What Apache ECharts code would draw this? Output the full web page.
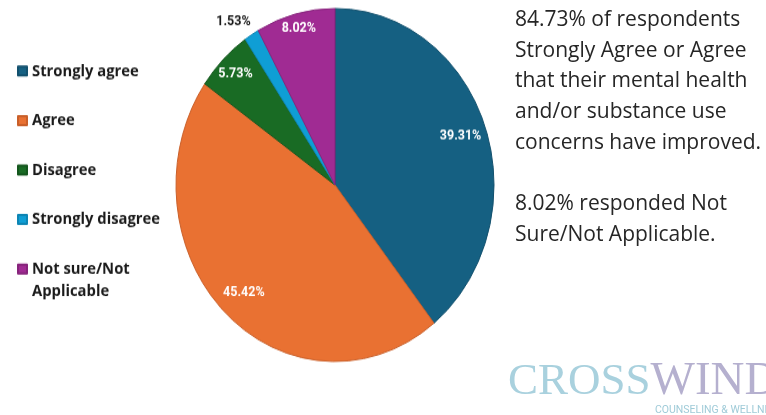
<!DOCTYPE html>
<html>
<head>
<meta charset="utf-8">
<script src="https://cdn.jsdelivr.net/npm/echarts@6/dist/echarts.min.js"></script>
<style>
  html, body { margin: 0; padding: 0; background: #ffffff; }
  #wrap { position: relative; width: 766px; height: 415px; overflow: hidden; }
  #main, #pie { position: absolute; left: 0; top: 0; width: 766px; height: 415px; }
  /* the pie is drawn slightly taller than wide */
  #pie { transform-origin: 335px 185px; transform: scaleY(1.11); }
</style>
</head>
<body>
<div id="wrap">
  <div id="main"></div>
  <div id="pie"></div>
</div>
<script>
// Survey responses
const categories = ['Strongly agree', 'Agree', 'Disagree', 'Strongly disagree', 'Not sure/Not Applicable'];
// the last legend entry starts with an empty line so its first line sits beside the swatch
const legendNames = ['Strongly agree', 'Agree', 'Disagree', 'Strongly disagree', ' \nNot sure/Not\nApplicable'];
const percents = [39.31, 45.42, 5.73, 1.53, 8.02];
const colors = ['#156082', '#E97132', '#196B24', '#0F9ED5', '#A02B93'];
const borders = ['#12506d', '#c95f29', '#14561d', '#0d85b4', '#86237b'];

// Commentary beside the chart
const summaryLines = [
  '84.73% of respondents',
  'Strongly Agree or Agree',
  'that their mental health',
  'and/or substance use',
  'concerns have improved.',
  '',
  '8.02% responded Not',
  'Sure/Not Applicable.'
];

const sansBold = '"Open Sans", Roboto, "Liberation Sans", Arial, sans-serif';
const labelFont = 'Roboto, "Liberation Sans", Arial, sans-serif';
const serifFont = '"Liberation Serif", "DejaVu Serif", serif';

// ---- pie, slice labels and legend ----
const pieChart = echarts.init(document.getElementById('pie'), null, { renderer: 'canvas' });

const sliceData = categories.map((name, i) => ({
  name: name,
  value: percents[i],
  itemStyle: { color: colors[i], borderColor: borders[i], borderWidth: 1 }
}));

const labelData = categories.map((name, i) => {
  const item = { name: name, value: percents[i] };
  if (name === 'Strongly disagree') {
    item.label = { position: 'outside', color: '#1a1a1a' };
    item.labelLine = { show: false, length: 0, length2: 0 };
  }
  return item;
});

// small nudges so labels sit where they read best
const labelNudge = { 2: [-6, -6], 3: [4, -12], 4: [-3, -12.5] };

const legendStyle = {
  orient: 'vertical',
  left: 17,
  padding: 0,
  itemWidth: 9,
  itemHeight: 8,
  icon: 'rect',
  selectedMode: false,
  formatter: (n) => legendNames[categories.indexOf(n)],
  textStyle: { fontFamily: sansBold, fontWeight: 'bold', fontSize: 14.8, color: '#1a1a1a', lineHeight: 20 }
};

pieChart.setOption({
  animation: false,
  legend: [
    Object.assign({}, legendStyle, {
      data: categories.slice(0, 4),
      top: 72.3,
      itemGap: 24.6
    }),
    Object.assign({}, legendStyle, {
      data: categories.slice(4),
      top: 230.7
    })
  ],
  series: [
    {
      name: 'Responses',
      type: 'pie',
      center: [335, 185],
      radius: [0, 159],
      startAngle: 90,
      clockwise: true,
      silent: true,
      label: { show: false },
      labelLine: { show: false },
      emphasis: { disabled: true },
      data: sliceData
    },
    {
      name: 'Labels',
      type: 'pie',
      center: [335, 185],
      radius: [101, 159],
      startAngle: 90,
      clockwise: true,
      silent: true,
      avoidLabelOverlap: false,
      itemStyle: { color: 'rgba(0,0,0,0)' },
      emphasis: { disabled: true },
      label: {
        show: true,
        position: 'inside',
        formatter: (p) => p.value.toFixed(2) + '%',
        color: '#ffffff',
        fontFamily: labelFont,
        fontWeight: 'bold',
        fontSize: 12.5
      },
      labelLayout: (p) => {
        const n = labelNudge[p.dataIndex];
        return n ? { dx: n[0], dy: n[1] } : {};
      },
      data: labelData
    }
  ]
});

// ---- commentary and logo ----
const mainChart = echarts.init(document.getElementById('main'), null, { renderer: 'canvas' });
mainChart.setOption({
  animation: false,
  graphic: [
    {
      type: 'text',
      left: 515,
      top: 4.5,
      style: {
        text: summaryLines.join('\n'),
        font: '21px "Open Sans", Roboto, "Liberation Sans", Arial, sans-serif',
        lineHeight: 30.7,
        fill: '#262626'
      }
    },
    {
      type: 'text',
      x: 508,
      y: 382,
      style: {
        text: '{a|CROSS}{b|WINDS}',
        verticalAlign: 'middle',
        rich: {
          a: { fontFamily: serifFont, fontSize: 45, fill: '#a9d1de' },
          b: { fontFamily: serifFont, fontSize: 47, fill: '#b5b0cf' }
        }
      }
    },
    {
      type: 'text',
      x: 655,
      y: 410,
      style: {
        text: 'COUNSELING & WELLNESS',
        verticalAlign: 'middle',
        font: '10.5px Roboto, "Liberation Sans", sans-serif',
        fill: '#9fcbd8'
      }
    }
  ]
});
</script>
</body>
</html>
